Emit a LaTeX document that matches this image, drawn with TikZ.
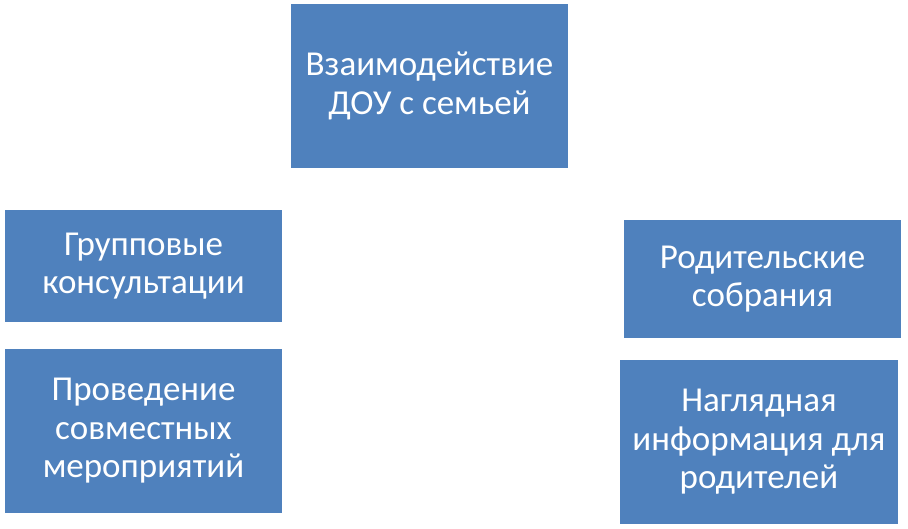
\documentclass[tikz,border=0pt]{standalone}
\usepackage{fontspec}
\setmainfont{Carlito}
\usetikzlibrary{positioning}
\definecolor{boxblue}{HTML}{4F81BD}

\begin{document}
\begin{tikzpicture}[x=1pt,y=-1pt,
  main node/.style={rectangle,fill=boxblue,draw=none,text=white,align=center,
    inner sep=0.,outer sep=0.,minimum width=277pt,
    font=\fontsize{35}{38.5}\selectfont}]%
  \useasboundingbox (0., 0.) rectangle (908., 528.);
  \node[main node,minimum height=164pt] (dou) at (429.5, 86.) {Взаимодействие\\ДОУ с семьей};
  \node[main node,minimum height=112pt] (grupp) at (143.5, 266.) {Групповые\\консультации};
  \node[main node,minimum height=164pt] (meropr) at (143.5, 431.) {Проведение\\совместных\\мероприятий};
  \node[main node,minimum height=118pt] (sobr) at (762.5, 279.) {Родительские\\собрания};
  \node[main node,minimum height=164pt,minimum width=278pt] (info) at (759., 442.) {Наглядная\\информация для\\родителей};
\end{tikzpicture}
\end{document}
